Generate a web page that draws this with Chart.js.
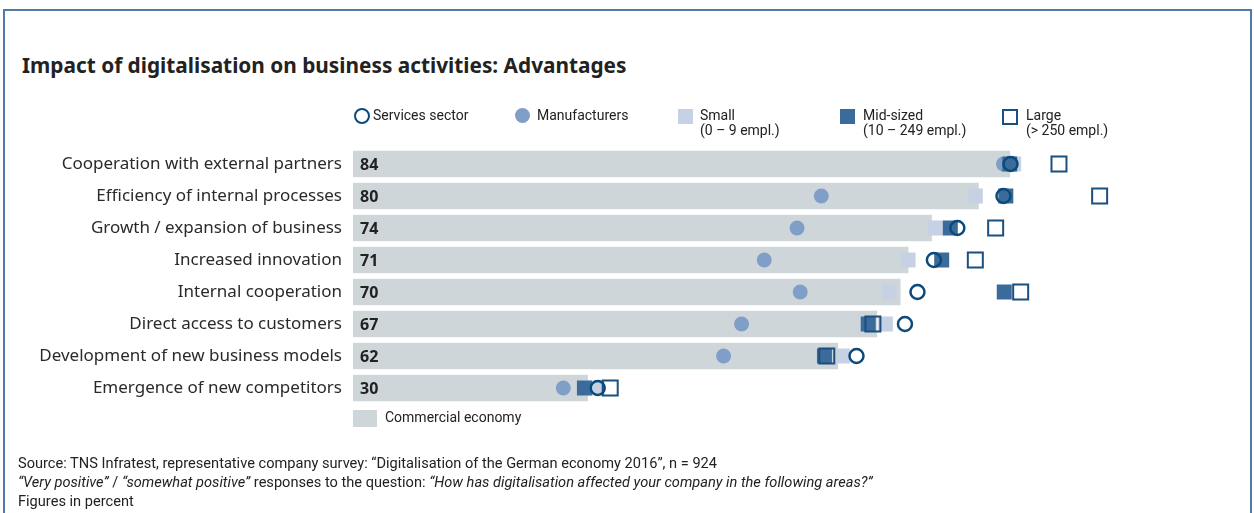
<!DOCTYPE html>
<html>
<head>
<meta charset="utf-8">
<script src="https://cdn.jsdelivr.net/npm/chart.js@4.4.0/dist/chart.umd.min.js"></script>
<style>
    body { margin: 0; background: #fff; font-family: "Noto Sans", sans-serif; color: #222; }
    #wrap { position: relative; width: 1254px; height: 513px; overflow: hidden; }
    #frame { position: absolute; left: 3px; top: 9px; width: 1245px; height: 520px;
        border: 2px solid #4d7ba6; border-bottom: none; }
    #title { position: absolute; left: 22px; top: 51px; font-size: 20.8px; font-weight: bold; color: #222; white-space: nowrap; }
    canvas { position: absolute; left: 0; top: 0; }
    .lg { position: absolute; font-family: "Roboto", sans-serif; font-size: 14px; line-height: 15px; color: #222; white-space: nowrap; }
    .mk { position: absolute; box-sizing: border-box; }
    #foot { position: absolute; left: 18px; top: 454px; font-family: "Roboto", sans-serif; font-size: 14.6px; line-height: 19px; color: #222; white-space: nowrap; }
</style>
</head>
<body>
<div id="wrap">
    <div id="frame"></div>
    <div id="title">Impact of digitalisation on business activities: Advantages</div>
    <canvas id="chart" width="1254" height="513"></canvas>

    <!-- leyenda de arriba -->
    <div class="mk" style="left:354px;top:108px;width:16px;height:16px;border:2.5px solid #0c4a7c;border-radius:50%;"></div>
    <div class="lg" style="left:373px;top:108px;">Services sector</div>
    <div class="mk" style="left:515px;top:108px;width:15px;height:15px;background:#809fc8;border-radius:50%;"></div>
    <div class="lg" style="left:537px;top:108px;">Manufacturers</div>
    <div class="mk" style="left:678px;top:109px;width:15px;height:15px;background:#c6d2e4;"></div>
    <div class="lg" style="left:700px;top:108px;">Small<br>(0 – 9 empl.)</div>
    <div class="mk" style="left:840px;top:109px;width:15px;height:15px;background:#3a6b9b;"></div>
    <div class="lg" style="left:863px;top:108px;">Mid-sized<br>(10 – 249 empl.)</div>
    <div class="mk" style="left:1002px;top:109px;width:16px;height:16px;border:2px solid #1a4f80;"></div>
    <div class="lg" style="left:1026px;top:108px;">Large<br>(&gt; 250 empl.)</div>

    <!-- leyenda de abajo -->
    <div class="mk" style="left:353px;top:410px;width:24px;height:17px;background:#cfd6d9;"></div>
    <div class="lg" style="left:385px;top:410px;">Commercial economy</div>

    <div id="foot">
        Source: TNS Infratest, representative company survey: “Digitalisation of the German economy 2016”, n = 924<br>
        <i>“Very positive”</i> / <i>“somewhat positive”</i> responses to the question: <i>“How has digitalisation affected your company in the following areas?”</i><br>
        Figures in percent
    </div>
</div>

<script>
// datos
const categories = [
    'Cooperation with external partners',
    'Efficiency of internal processes',
    'Growth / expansion of business',
    'Increased innovation',
    'Internal cooperation',
    'Direct access to customers',
    'Development of new business models',
    'Emergence of new competitors'
];
const commercial = [84, 80, 74, 71, 70, 67, 62, 30];
const services = [84.1, 83.2, 77.3, 74.3, 72.2, 70.6, 64.4, 31.3];
const manufacturers = [83.2, 59.9, 56.8, 52.6, 57.2, 49.7, 47.4, 26.9];
const small = [84.5, 79.6, 74.5, 71, 68.6, 68.1, 62.6, 31.2];
const midSized = [84, 83.5, 76.4, 75.3, 83.3, 65.9, 60.3, 29.6];
const large = [90.3, 95.5, 82.2, 79.6, 85.4, 66.5, 60.6, 32.9];

// Función pa los numeritos dentro de las barras
const barValues = {
    id: 'barValues',
    afterDatasetsDraw(chart) {
        const ctx = chart.ctx;
        const meta = chart.getDatasetMeta(5);
        ctx.save();
        ctx.font = 'bold 16px "Noto Sans", sans-serif';
        ctx.fillStyle = '#222';
        ctx.textBaseline = 'middle';
        meta.data.forEach((bar, i) => {
            ctx.fillText(commercial[i], bar.base + 7, bar.y + 1);
        });
        ctx.restore();
    }
};

function pointSet(label, data, order, style) {
    return Object.assign({
        type: 'line',
        label: label,
        data: data,
        indexAxis: 'y',
        showLine: false,
        order: order
    }, style);
}

const ctx = document.getElementById('chart').getContext('2d');
new Chart(ctx, {
    type: 'bar',
    data: {
        labels: categories,
        datasets: [
            pointSet('Services sector', services, 0, {
                pointStyle: 'circle', pointRadius: 7, borderWidth: 2.5,
                borderColor: '#0c4a7c', backgroundColor: 'rgba(0,0,0,0)'
            }),
            pointSet('Large', large, 1, {
                pointStyle: 'rect', pointRadius: 10.6, borderWidth: 2,
                borderColor: '#1a4f80', backgroundColor: 'rgba(0,0,0,0)'
            }),
            pointSet('Mid-sized', midSized, 2, {
                pointStyle: 'rect', pointRadius: 10.6, borderWidth: 0,
                borderColor: '#3a6b9b', backgroundColor: '#3a6b9b'
            }),
            pointSet('Small', small, 3, {
                pointStyle: 'rect', pointRadius: 10.6, borderWidth: 0,
                borderColor: '#c6d2e4', backgroundColor: '#c6d2e4'
            }),
            pointSet('Manufacturers', manufacturers, 4, {
                pointStyle: 'circle', pointRadius: 7.5, borderWidth: 0,
                borderColor: '#809fc8', backgroundColor: '#809fc8'
            }),
            {
                type: 'bar',
                label: 'Commercial economy',
                data: commercial,
                backgroundColor: '#cfd6d9',
                barThickness: 26,
                order: 5
            }
        ]
    },
    options: {
        indexAxis: 'y',
        responsive: false,
        animation: false,
        events: [],
        layout: { padding: { top: 148, bottom: 109, left: 0, right: 41 } },
        plugins: {
            legend: { display: false },
            tooltip: { enabled: false }
        },
        scales: {
            x: {
                display: false,
                min: 0,
                max: 110
            },
            y: {
                grid: { display: false, drawTicks: false },
                border: { display: false },
                ticks: {
                    padding: 11,
                    color: '#2a2a2a',
                    font: { family: '"Noto Sans", sans-serif', size: 17 }
                },
                afterFit(scale) { scale.width = 353; }
            }
        }
    },
    plugins: [barValues]
});
</script>
</body>
</html>
